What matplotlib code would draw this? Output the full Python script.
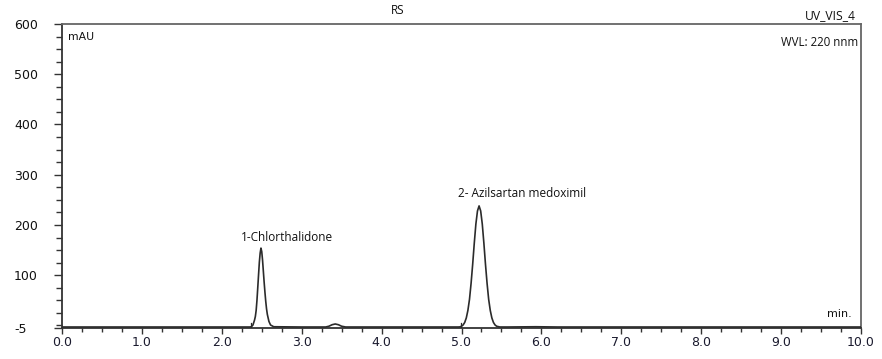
import matplotlib
matplotlib.use("Agg")
import matplotlib.pyplot as plt
from matplotlib.ticker import MultipleLocator, FixedLocator

# ---- data (time in min, signal in mAU) ----
trace_time = [0.00, 0.50, 1.00, 1.50, 2.00, 2.30, 2.35, 2.37, 2.39, 2.41, 2.42, 2.43,
              2.44, 2.45, 2.46, 2.47, 2.48, 2.49, 2.50, 2.51, 2.52, 2.53, 2.54,
              2.55, 2.56, 2.57, 2.59, 2.61, 2.65, 3.00, 3.30, 3.34, 3.38, 3.42,
              3.46, 3.50, 3.55, 4.00, 4.50, 4.90, 4.96, 4.98, 5.00, 5.02, 5.04,
              5.06, 5.08, 5.10, 5.12, 5.14, 5.16, 5.18, 5.20, 5.22, 5.24, 5.26,
              5.28, 5.30, 5.32, 5.34, 5.36, 5.38, 5.40, 5.42, 5.44, 5.48, 5.58,
              5.93, 6.20, 7.00, 8.00, 9.00, 10.00]
trace_mau = [-3, -3, -3, -3, -3, -3, -3, -2.5, 1, 11, 18, 30,
             50, 75, 101, 126, 144, 154, 147, 130, 108, 86, 66,
             48, 33, 22, 8, 1, -2.5, -3, -3, -1.5, 1.5, 3,
             1.5, -1.5, -3, -3, -3, -3, -3, -2.8, -1.5, 1, 6,
             15, 30, 52, 84, 122, 164, 202, 228, 238, 228, 202,
             164, 122, 84, 52, 30, 15, 6, 1, -1.5, -3, -3,
             -2.5, -3, -3, -3, -3, -3]

marker_times = [2.36, 4.99]
peak_labels = ["1-Chlorthalidone", "2- Azilsartan medoximil"]
peak_label_pos = [(2.82, 176), (5.76, 262)]
y_ticks = [-5, 100, 200, 300, 400, 500, 600]
x_ticks = [0.0, 1.0, 2.0, 3.0, 4.0, 5.0, 6.0, 7.0, 8.0, 9.0, 10.0]

W, H = 882, 359
fig = plt.figure(figsize=(W / 100, H / 100), dpi=100)
ax = fig.add_axes([62 / W, 1 - 328 / H, (861 - 62) / W, (328 - 24) / H])

line_c = "#2b2b2b"
ax.plot(trace_time, trace_mau, color=line_c, lw=1.2, zorder=3)
for t in marker_times:
    ax.plot([t, t], [-5, 5], color=line_c, lw=0.9, zorder=3)

ax.set_xlim(0, 10)
ax.set_ylim(-5, 600)

ax.xaxis.set_major_locator(FixedLocator(x_ticks))
ax.xaxis.set_minor_locator(MultipleLocator(0.25))
ax.yaxis.set_major_locator(FixedLocator(y_ticks))
ax.yaxis.set_minor_locator(MultipleLocator(25))
ax.set_xticklabels([f"{v:.1f}" for v in x_ticks])
ax.set_yticklabels([str(v) for v in y_ticks])

ax.tick_params(axis="x", which="major", length=4, width=1.0, color="#333333",
               labelsize=9, pad=2, labelcolor="#1a1a2e")
ax.tick_params(axis="x", which="minor", length=3, width=1.0, color="#333333")
ax.tick_params(axis="y", which="major", length=6, width=1.0, color="#333333",
               labelsize=9, pad=28.5, labelcolor="#111111")
ax.tick_params(axis="y", which="minor", length=4, width=1.0, color="#333333")
for lab in ax.get_yticklabels():
    lab.set_ha("left")

for s in ["left", "bottom"]:
    ax.spines[s].set_color("#333333")
    ax.spines[s].set_linewidth(1.3)
for s in ["top", "right"]:
    ax.spines[s].set_color("#666666")
    ax.spines[s].set_linewidth(1.3)

ann_font = "Open Sans"
for txt, (x, y) in zip(peak_labels, peak_label_pos):
    ax.text(x, y, txt, ha="center", va="center", fontsize=8.5, family=ann_font,
            color="#111111")

ax.text(0.007, 0.975, "mAU", transform=ax.transAxes, ha="left", va="top",
        fontsize=7.8, family="DejaVu Sans", color="#111111")
ax.text(0.997, 0.94, "WVL: 220 nnm", transform=ax.transAxes, ha="right",
        va="center", fontsize=8.3, family=ann_font, color="#111111")
ax.text(0.989, 0.03, "min.", transform=ax.transAxes, ha="right", va="bottom",
        fontsize=8, family="DejaVu Sans", color="#111111")
fig.text(398 / W, 1 - 10 / H, "RS", ha="center", va="center", fontsize=8.5,
         family=ann_font, color="#111111")
fig.text(856 / W, 1 - 16 / H, "UV_VIS_4", ha="right", va="center", fontsize=8.7,
         family=ann_font, color="#111111")

fig.savefig("out.png", dpi=100, facecolor="white")
